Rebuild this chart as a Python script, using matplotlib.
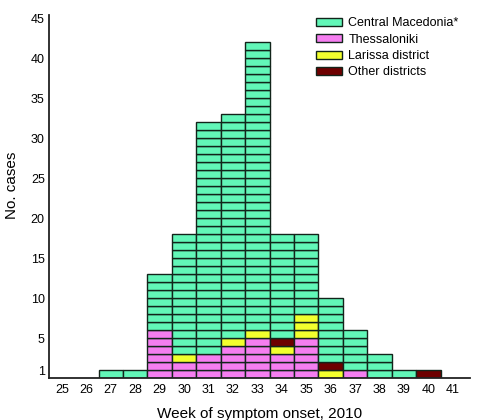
import numpy as np
import matplotlib
matplotlib.use("Agg")
import matplotlib.pyplot as plt
from matplotlib.patches import Patch

plt.rcParams['font.family'] = ['Liberation Sans', 'DejaVu Sans']

# cases per week of onset, by area
weeks = list(range(25, 42))
thessaloniki = [0, 0, 0, 0, 6, 2, 3, 4, 5, 3, 5, 0, 1, 0, 0, 0, 0]
larissa = [0, 0, 0, 0, 0, 1, 0, 1, 1, 1, 3, 1, 0, 0, 0, 0, 0]
other = [0, 0, 0, 0, 0, 0, 0, 0, 0, 1, 0, 1, 0, 0, 0, 1, 0]
central = [0, 0, 1, 1, 7, 15, 29, 28, 36, 13, 10, 8, 5, 3, 1, 0, 0]

labels = ["Thessaloniki", "Larissa district", "Other districts", "Central Macedonia*"]
colors = ["#F57EF0", "#F2FF2E", "#6E0000", "#62F7B8"]
edge = "#12241a"

fig = plt.figure(figsize=(4.8, 4.2), dpi=100)
ax = fig.add_axes([0.102, 0.1, 0.877, 0.864])

# one box per case, stacked bottom to top
series = [thessaloniki, larissa, other, central]
for i, w in enumerate(weeks):
    level = 0
    for s, c in zip(series, colors):
        for k in range(s[i]):
            ax.bar(w, 1, width=1.0, bottom=level, color=c, edgecolor=edge, linewidth=1.0)
            level += 1

ax.set_xlim(24.47, 41.7)
ax.set_ylim(0, 45.4)
ax.set_xticks(weeks)
ax.set_yticks([1, 5, 10, 15, 20, 25, 30, 35, 40, 45])
ax.tick_params(length=0, labelsize=9, pad=4)
ax.tick_params(axis="y", pad=3)
for sp in ["top", "right"]:
    ax.spines[sp].set_visible(False)
for sp in ["left", "bottom"]:
    ax.spines[sp].set_linewidth(1.3)
    ax.spines[sp].set_color("#222222")

ax.set_xlabel("Week of symptom onset, 2010", fontsize=11, labelpad=8)
ax.set_ylabel("No. cases", fontsize=11)
ax.yaxis.set_label_coords(-0.07, 0.53)

# legend order as in the figure
order = [3, 0, 1, 2]
handles = [Patch(facecolor=colors[j], edgecolor=edge, linewidth=1.0) for j in order]
ax.legend(handles, [labels[j] for j in order], loc="upper right",
          bbox_to_anchor=(1.0, 1.025), frameon=False, fontsize=9,
          handlelength=2.1, handleheight=0.6, labelspacing=0.35, handletextpad=0.5)

fig.savefig("out.png", dpi=100)
